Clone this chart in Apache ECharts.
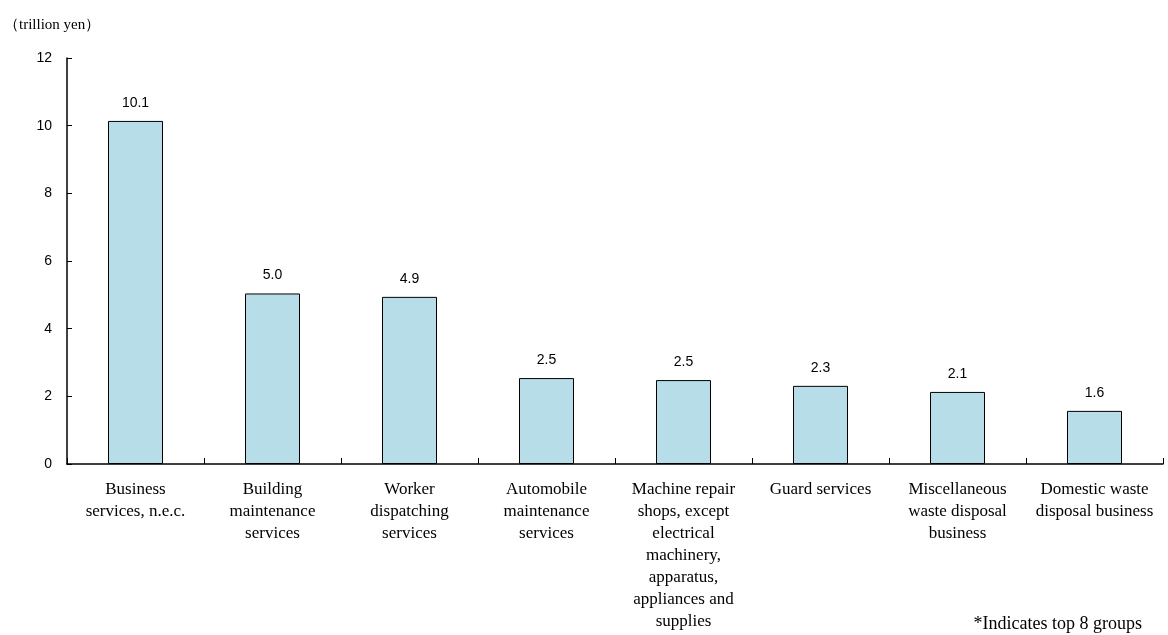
<!DOCTYPE html>
<html><head><meta charset="utf-8">
<script src="https://cdn.jsdelivr.net/npm/echarts@6/dist/echarts.min.js"></script>
<style>html,body{margin:0;padding:0;background:#fff}#c{width:1168px;height:635px}</style>
</head><body><div id="c"></div>
<script>
const categories = [
  "Business\nservices, n.e.c.",
  "Building\nmaintenance\nservices",
  "Worker\ndispatching\nservices",
  "Automobile\nmaintenance\nservices",
  "Machine repair\nshops, except\nelectrical\nmachinery,\napparatus,\nappliances and\nsupplies",
  "Guard services",
  "Miscellaneous\nwaste disposal\nbusiness",
  "Domestic waste\ndisposal business"
];
const values = [10.14, 5.04, 4.94, 2.54, 2.48, 2.31, 2.13, 1.57];
const yTicks = { min: 0, max: 12, interval: 2 };
const unitLabel = "（trillion yen）";
const note = "*Indicates top 8 groups";

const chart = echarts.init(document.getElementById('c'), null, {renderer: 'canvas'});
chart.setOption({
  animation: false,
  grid: { left: 67, right: 5, top: 58, bottom: 171, containLabel: false },
  graphic: [
    { type: 'text', left: 4, top: 18, style: { text: unitLabel, font: '15px "Liberation Serif", serif', fill: '#000' } },
    { type: 'text', right: 26, top: 615, style: { text: note, font: '18px "Liberation Serif", serif', fill: '#000' } }
  ],
  xAxis: {
    type: 'category', data: categories,
    axisLine: { lineStyle: { color: '#000', width: 1.5 } },
    axisTick: { show: true, inside: true, length: 6, lineStyle: { color: '#000', width: 1 } },
    axisLabel: { interval: 0, color: '#000', fontFamily: '"Liberation Serif", serif', fontSize: 17, lineHeight: 22, margin: 15 }
  },
  yAxis: {
    type: 'value', min: yTicks.min, max: yTicks.max, interval: yTicks.interval,
    splitLine: { show: false },
    axisLine: { show: true, lineStyle: { color: '#000', width: 1.5 } },
    axisTick: { show: true, inside: true, length: 5, lineStyle: { color: '#000' } },
    axisLabel: { color: '#000', fontFamily: '"Liberation Sans", Arial, sans-serif', fontSize: 14, margin: 15, align: 'right' }
  },
  series: [{
    type: 'bar', data: values, barWidth: 55,
    itemStyle: { color: '#B7DEE8', borderColor: '#000', borderWidth: 1 },
    label: { show: true, position: 'top', distance: 11, color: '#000', fontFamily: '"Liberation Sans", Arial, sans-serif', fontSize: 14,
      formatter: p => p.value.toFixed(1) }
  }]
});
</script></body></html>
